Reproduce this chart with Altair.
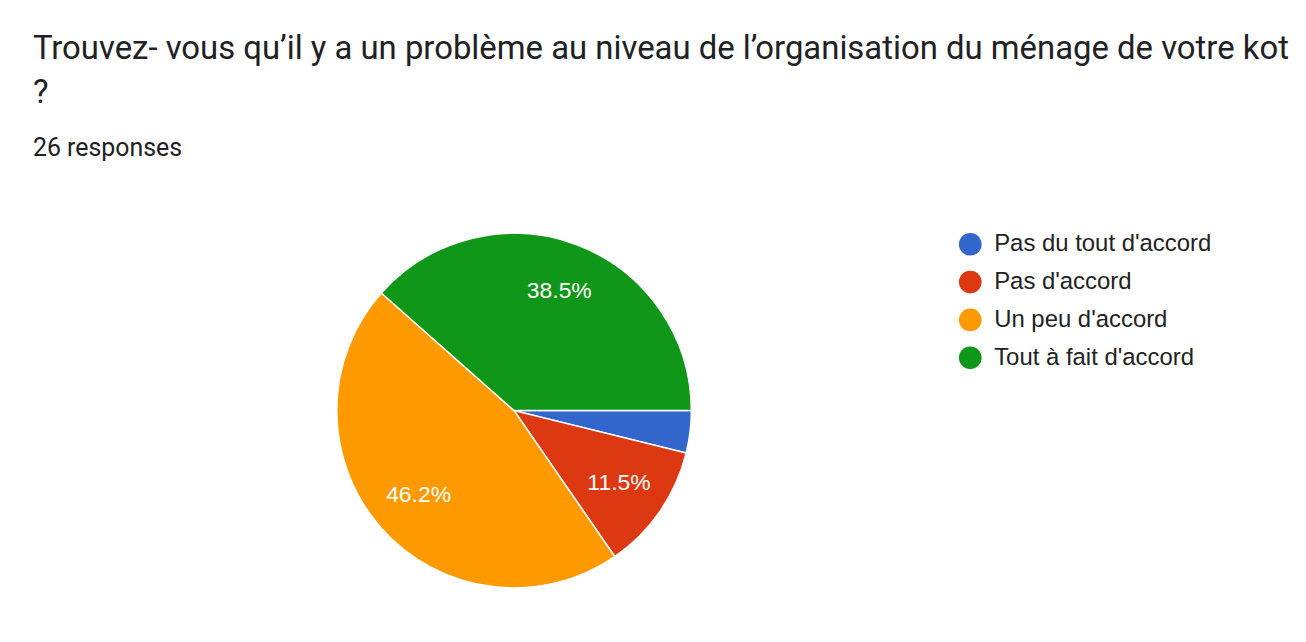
import math
import altair as alt
import pandas as pd

categories = ["Pas du tout d'accord", "Pas d'accord", "Un peu d'accord", "Tout à fait d'accord"]
counts = [1, 3, 12, 10]
colors = ["#3366cc", "#dc3912", "#ff9900", "#109618"]
total_responses = 26

title_lines = ["Trouvez- vous qu’il y a un problème au niveau de l’organisation du ménage de votre kot", "?"]
subtitle = f"{total_responses} responses"

df = pd.DataFrame({"cat": categories, "count": counts, "idx": list(range(len(categories)))})
df["pct"] = df["count"] / total_responses * 100
df["label"] = [f"{p:.1f}%" if p >= 5 else "" for p in df["pct"]]

CX, CY = 483, 229
R = 178

theta = alt.Theta("count:Q", stack=True,
                  scale=alt.Scale(range=[math.pi / 2, math.pi / 2 + 2 * math.pi]))

arc = alt.Chart(df).mark_arc(outerRadius=R, stroke="white", strokeWidth=1.5).encode(
    theta=theta,
    color=alt.Color(
        "cat:N",
        scale=alt.Scale(domain=categories, range=colors),
        legend=alt.Legend(
            orient="none", legendX=929, legendY=50, title=None,
            symbolType="circle", symbolSize=520, symbolStrokeWidth=0, symbolOpacity=1,
            labelFont="Liberation Sans", labelFontSize=24, labelColor="#222222",
            labelOffset=12, rowPadding=14, padding=0, labelLimit=400,
        ),
    ),
    order=alt.Order("idx:Q"),
    x=alt.value(CX),
    y=alt.value(CY),
)

text = alt.Chart(df).mark_text(radius=128, font="Liberation Sans", fontSize=23, fill="white").encode(
    theta=theta,
    detail="cat:N",
    order=alt.Order("idx:Q"),
    text="label:N",
    x=alt.value(CX),
    y=alt.value(CY),
)

chart = alt.layer(arc, text).properties(
    width=1270,
    height=420,
    padding={"top": 24, "left": 25, "right": 0, "bottom": 0},
    title=alt.TitleParams(
        text=title_lines,
        subtitle=subtitle,
        anchor="start",
        frame="group",
        font="Roboto",
        fontSize=33,
        fontWeight="normal",
        color="#202124",
        lineHeight=44,
        subtitleFont="Roboto",
        subtitleFontSize=25,
        subtitleColor="#202124",
        subtitlePadding=26,
        offset=22,
    ),
).configure_view(stroke="transparent")

chart.save("out.html", embed_options={"renderer": "svg", "actions": False})
